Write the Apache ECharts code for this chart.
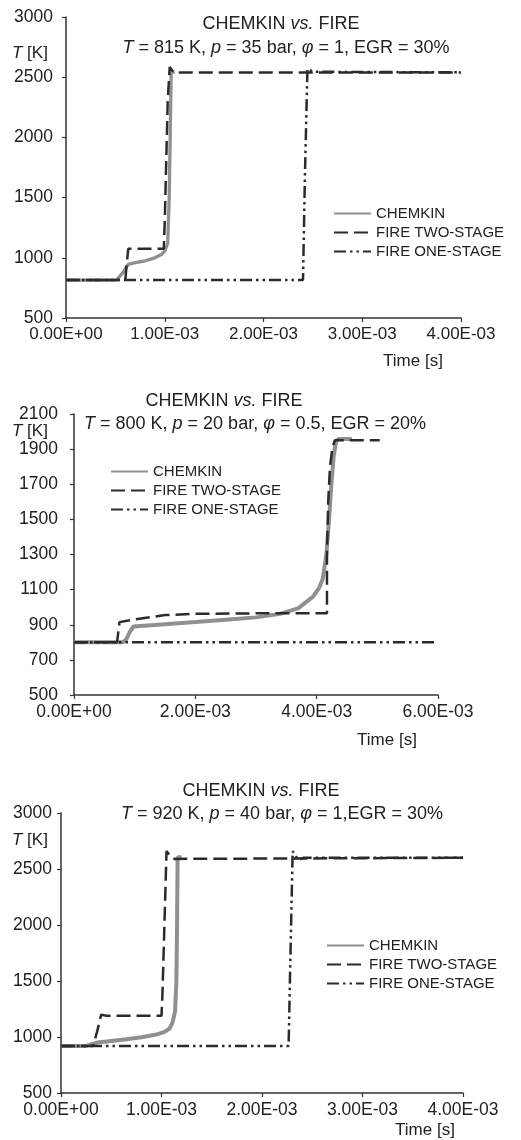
<!DOCTYPE html>
<html>
<head>
<meta charset="utf-8">
<script src="https://cdn.jsdelivr.net/npm/echarts@6/dist/echarts.min.js"></script>
<style>
html,body{margin:0;padding:0;background:#fff;}
#c{width:521px;height:1140px;}
</style>
</head>
<body>
<div id="c"></div>
<script>
// ---------- DATA (time in s, temperature in K) ----------
const seriesNames = ['CHEMKIN', 'FIRE TWO-STAGE', 'FIRE ONE-STAGE'];

// Panel 1: T = 815 K, p = 35 bar, phi = 1, EGR = 30%
const p1ChemkinTime = [0, 0.51e-3, 0.57e-3, 0.63e-3, 0.68e-3, 0.80e-3, 0.90e-3, 0.97e-3, 1.00e-3, 1.03e-3, 1.045e-3, 1.055e-3, 1.065e-3, 1.10e-3];
const p1ChemkinTemp = [815, 815, 870, 945, 955, 975, 1000, 1030, 1055, 1120, 1500, 2000, 2540, 2545];
const p1TwoStageTime = [0, 0.60e-3, 0.63e-3, 0.99e-3, 1.00e-3, 1.03e-3, 1.05e-3, 1.09e-3, 4.00e-3];
const p1TwoStageTemp = [815, 815, 1075, 1075, 1300, 2300, 2585, 2540, 2540];
const p1OneStageTime = [0, 2.40e-3, 2.42e-3, 2.445e-3, 2.50e-3, 4.00e-3];
const p1OneStageTemp = [815, 815, 1700, 2570, 2545, 2540];

// Panel 2: T = 800 K, p = 20 bar, phi = 0.5, EGR = 20%
const p2ChemkinTime = [0, 0.80e-3, 0.86e-3, 0.92e-3, 0.98e-3, 1.5e-3, 2.0e-3, 2.5e-3, 3.0e-3, 3.4e-3, 3.7e-3, 3.94e-3, 4.04e-3, 4.10e-3, 4.16e-3, 4.20e-3, 4.24e-3, 4.28e-3, 4.32e-3, 4.36e-3, 4.58e-3];
const p2ChemkinTemp = [800, 800, 815, 860, 890, 903, 915, 928, 942, 962, 995, 1060, 1110, 1160, 1300, 1480, 1690, 1860, 1945, 1957, 1957];
const p2TwoStageTime = [0, 0.71e-3, 0.75e-3, 1.0e-3, 1.5e-3, 2.0e-3, 3.0e-3, 4.17e-3, 4.17e-3, 4.19e-3, 4.22e-3, 4.26e-3, 4.30e-3, 5.04e-3];
const p2TwoStageTemp = [800, 800, 915, 930, 955, 962, 965, 965, 1300, 1600, 1800, 1910, 1950, 1950];
const p2OneStageTime = [0, 5.97e-3];
const p2OneStageTemp = [800, 800];

// Panel 3: T = 920 K, p = 40 bar, phi = 1, EGR = 30%
const p3ChemkinTime = [0, 0.25e-3, 0.30e-3, 0.36e-3, 0.50e-3, 0.65e-3, 0.80e-3, 0.95e-3, 1.03e-3, 1.08e-3, 1.11e-3, 1.135e-3, 1.148e-3, 1.155e-3, 1.16e-3, 1.20e-3];
const p3ChemkinTemp = [920, 920, 935, 950, 965, 980, 998, 1022, 1045, 1075, 1130, 1230, 1500, 2000, 2605, 2605];
const p3TwoStageTime = [0, 0.32e-3, 0.36e-3, 0.40e-3, 0.45e-3, 1.00e-3, 1.01e-3, 1.05e-3, 1.10e-3, 1.13e-3, 4.00e-3];
const p3TwoStageTemp = [920, 920, 1050, 1200, 1190, 1190, 1400, 2660, 2600, 2590, 2600];
const p3OneStageTime = [0, 2.265e-3, 2.28e-3, 2.305e-3, 2.36e-3, 2.41e-3, 4.00e-3];
const p3OneStageTemp = [920, 920, 1600, 2660, 2580, 2600, 2600];

// Axis ticks
const p1XTicks = [0, 1e-3, 2e-3, 3e-3, 4e-3];
const p1YTicks = [500, 1000, 1500, 2000, 2500, 3000];
const p2XTicks = [0, 2e-3, 4e-3, 6e-3];
const p2YTicks = [500, 700, 900, 1100, 1300, 1500, 1700, 1900, 2100];
const p3XTicks = [0, 1e-3, 2e-3, 3e-3, 4e-3];
const p3YTicks = [500, 1000, 1500, 2000, 2500, 3000];

// Texts
const p1Cond = ['815 K', '35 bar', '1', 'EGR = 30%'];
const p2Cond = ['800 K', '20 bar', '0.5', 'EGR = 20%'];
const p3Cond = ['920 K', '40 bar', '1', 'EGR = 30%'];
const xName = 'Time [s]';

// ---------- BUILD ----------
function zip(a, b) { return a.map((v, i) => [v, b[i]]); }
function sci(v) {
  if (Math.abs(v) < 1e-12) return '0.00E+00';
  let e = Math.floor(Math.log10(Math.abs(v)) + 1e-9);
  let m = v / Math.pow(10, e);
  let s = e < 0 ? '-' : '+';
  let ee = String(Math.abs(e)).padStart(2, '0');
  return m.toFixed(2) + 'E' + s + ee;
}
function plain(v) { return String(Math.round(v)); }
const FONT = '"Liberation Sans", Arial, Helvetica, sans-serif';
const TXT = '#222';
const DARK = '#2b2b2b';
const GREY = '#909090';
const DASH = [14, 6];
const DDOT = [12, 4, 2.5, 4, 2.5, 4];

const grids = [
  {left: 66, top: 17, width: 395, height: 301},
  {left: 74, top: 414, width: 364, height: 281},
  {left: 61, top: 813, width: 402, height: 280}
];
const xCfg = [
  {min: 0, max: 4e-3, interval: 1e-3, ticks: p1XTicks, fs: 17},
  {min: 0, max: 6e-3, interval: 2e-3, ticks: p2XTicks, fs: 17.5},
  {min: 0, max: 4e-3, interval: 1e-3, ticks: p3XTicks, fs: 17.5}
];
const yCfg = [
  {min: 500, max: 3000, ticks: p1YTicks, fs: 17.5, margin: 13},
  {min: 500, max: 2100, ticks: p2YTicks, fs: 17.5, margin: 16},
  {min: 500, max: 3000, ticks: p3YTicks, fs: 17.5, margin: 9}
];
const axisLine = {show: true, onZero: false, lineStyle: {color: '#333', width: 1.5}};
const xAxes = xCfg.map((c, i) => ({
  type: 'value', gridIndex: i, min: c.min, max: c.max, interval: c.interval,
  axisLine: axisLine,
  axisTick: {show: true, length: 4, lineStyle: {color: '#333', width: 1.2}, customValues: c.ticks},
  axisLabel: {show: true, margin: 8, color: TXT, fontFamily: FONT, fontSize: c.fs, formatter: sci, customValues: c.ticks, showMinLabel: true, showMaxLabel: true},
  splitLine: {show: false}
}));
const yAxes = yCfg.map((c, i) => ({
  type: 'value', gridIndex: i, min: c.min, max: c.max,
  axisLine: axisLine,
  axisTick: {show: true, length: 4, lineStyle: {color: '#333', width: 1.2}, customValues: c.ticks},
  axisLabel: {show: true, margin: c.margin, color: TXT, fontFamily: FONT, fontSize: c.fs, formatter: plain, customValues: c.ticks},
  splitLine: {show: false}
}));

const panels = [
  [zip(p1ChemkinTime, p1ChemkinTemp), zip(p1TwoStageTime, p1TwoStageTemp), zip(p1OneStageTime, p1OneStageTemp)],
  [zip(p2ChemkinTime, p2ChemkinTemp), zip(p2TwoStageTime, p2TwoStageTemp), zip(p2OneStageTime, p2OneStageTemp)],
  [zip(p3ChemkinTime, p3ChemkinTemp), zip(p3TwoStageTime, p3TwoStageTemp), zip(p3OneStageTime, p3OneStageTemp)]
];
const greyW = [3.3, 4, 4];
const series = [];
panels.forEach((p, i) => {
  series.push({name: seriesNames[0], type: 'line', xAxisIndex: i, yAxisIndex: i, data: p[0], symbol: 'none', z: 2,
    itemStyle: {color: GREY}, lineStyle: {color: GREY, width: greyW[i]}});
  series.push({name: seriesNames[1], type: 'line', xAxisIndex: i, yAxisIndex: i, data: p[1], symbol: 'none', z: 3,
    itemStyle: {color: DARK}, lineStyle: {color: DARK, width: 2.5, type: DASH}});
  series.push({name: seriesNames[2], type: 'line', xAxisIndex: i, yAxisIndex: i, data: p[2], symbol: 'none', z: 4,
    itemStyle: {color: DARK}, lineStyle: {color: DARK, width: 2.5, type: DDOT}});
});

const legendPos = [{left: 333, top: 206}, {left: 110, top: 464}, {left: 326, top: 938}];
const legends = legendPos.map(pos => ({
  left: pos.left, top: pos.top, orient: 'vertical', itemWidth: 37, itemHeight: 14, itemGap: 4,
  padding: 0, data: seriesNames, selectedMode: false,
  itemStyle: {color: 'rgba(0,0,0,0)', opacity: 0, borderWidth: 0},
  textStyle: {color: TXT, fontFamily: FONT, fontSize: 15}
}));

const rich = {
  n: {fontFamily: FONT, fontSize: 18, fill: TXT, color: TXT},
  i: {fontFamily: FONT, fontSize: 18, fontStyle: 'italic', fill: TXT, color: TXT}
};
function titleL1(x, y) {
  return {type: 'text', x: x, y: y, style: {text: '{n|CHEMKIN }{i|vs.}{n| FIRE}', rich: rich, align: 'center', verticalAlign: 'middle'}};
}
function titleL2(x, y, c, tight) {
  const phiTail = tight ? ',' : ', ';
  return {type: 'text', x: x, y: y, style: {
    text: '{i|T}{n| = ' + c[0] + ', }{i|p}{n| = ' + c[1] + ', }{i|φ}{n| = ' + c[2] + phiTail + c[3] + '}',
    rich: rich, align: 'center', verticalAlign: 'middle'}};
}
function yLab(x, y) {
  return {type: 'text', x: x, y: y, style: {text: '{i|T}{n| [K]}', rich: {
    n: {fontFamily: FONT, fontSize: 17, fill: TXT, color: TXT},
    i: {fontFamily: FONT, fontSize: 17, fontStyle: 'italic', fill: TXT, color: TXT}}, align: 'left', verticalAlign: 'middle'}};
}
function xLab(x, y) {
  return {type: 'text', x: x, y: y, style: {text: xName, font: '17px ' + FONT, fill: TXT, align: 'center', verticalAlign: 'middle'}};
}
const graphics = [
  titleL1(281, 24), titleL2(286, 48, p1Cond, false), yLab(12, 53), xLab(413, 361),
  titleL1(224, 401), titleL2(255, 424, p2Cond, false), yLab(12, 431), xLab(387, 740),
  titleL1(261, 791), titleL2(282, 814, p3Cond, true), yLab(12, 840), xLab(425, 1130)
];

const chart = echarts.init(document.getElementById('c'), null, {renderer: 'canvas'});
chart.setOption({
  animation: false,
  backgroundColor: '#fff',
  grid: grids,
  xAxis: xAxes,
  yAxis: yAxes,
  legend: legends,
  series: series,
  graphic: graphics
});
</script>
</body>
</html>
